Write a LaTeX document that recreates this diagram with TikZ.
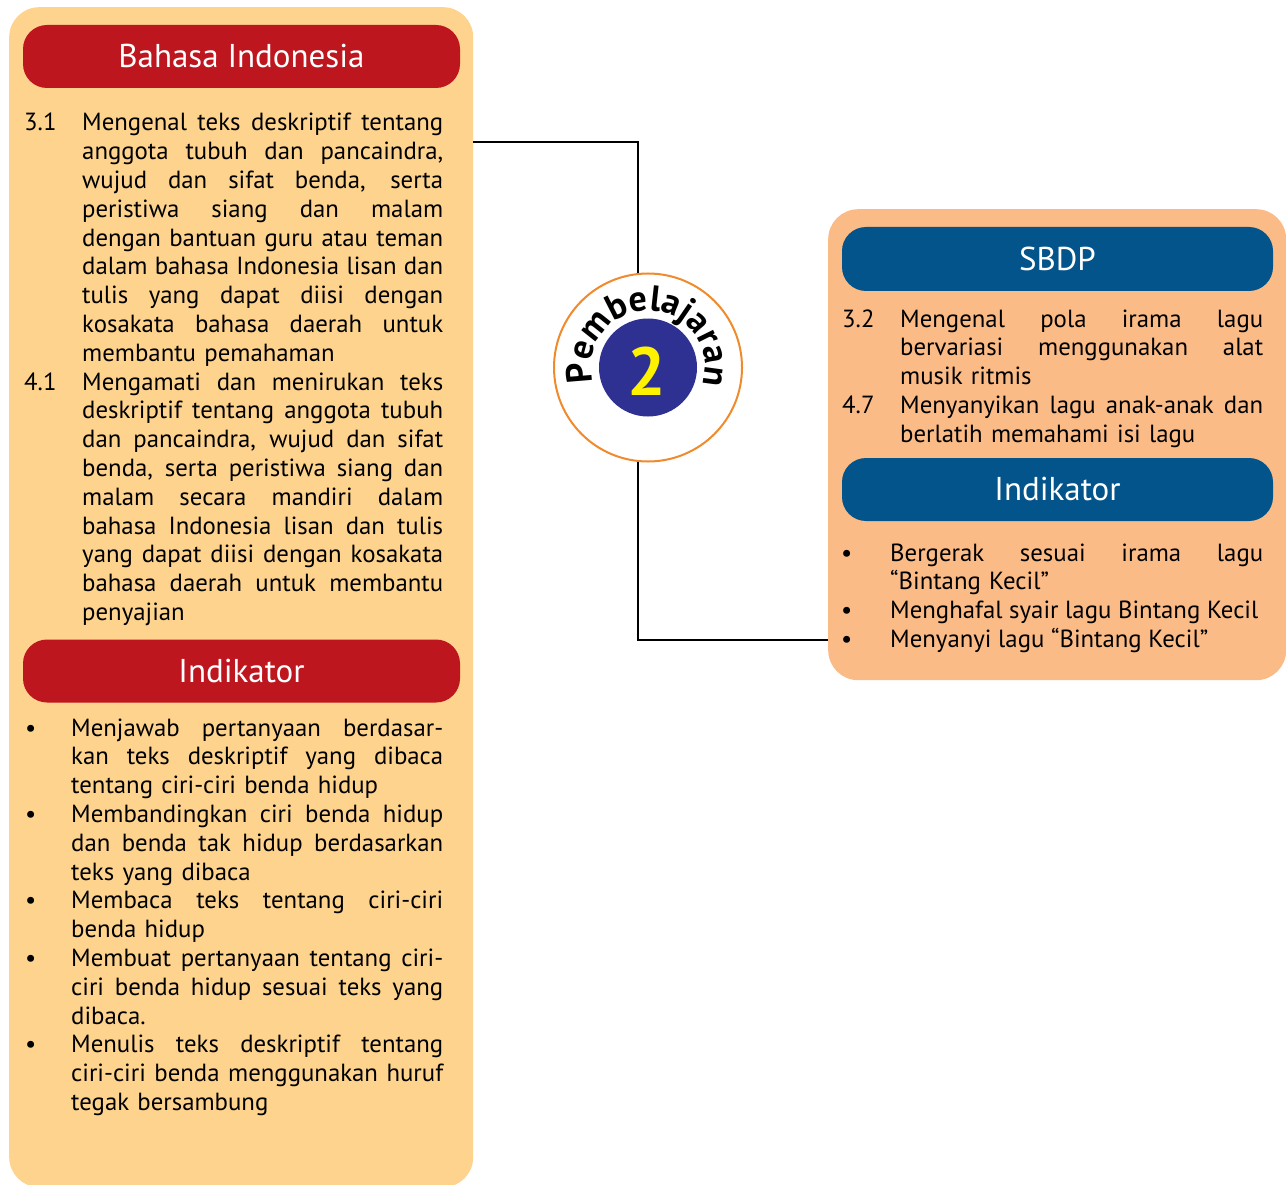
\documentclass[tikz,border=0pt]{standalone}
\usepackage{fontspec}
\setmainfont{PT Sans}
\usetikzlibrary{decorations.text}
\definecolor{lpfill}{HTML}{FDD38D}
\definecolor{rpfill}{HTML}{FABB86}
\definecolor{hred}{HTML}{BE161E}
\definecolor{hblue}{HTML}{02548A}
\definecolor{corange}{HTML}{F08A2C}
\definecolor{cblue}{HTML}{2E3192}
\definecolor{cyellow}{HTML}{FFF200}
\newcommand\jl[1]{\leavevmode\hbox to\hsize{\spaceskip=0.27em plus 1fil minus 0.09em\xspaceskip=\spaceskip #1}\\}
\tikzset{
  panel/.style={fill=#1, rounded corners=30pt, inner sep=0pt, anchor=north west},
  hdr/.style={fill=#1, rounded corners=24pt, minimum height=63pt, minimum width=437pt,
    text=white, font=\fontsize{33}{34}\selectfont, inner sep=0pt},
  body/.style={font=\fontsize{24.8}{28.8}\selectfont, inner sep=0pt, anchor=base west},
  conn/.style={line width=2.5pt, black},
}
\begin{document}
\begin{tikzpicture}[x=1pt, y=-1pt]
\useasboundingbox (0,0) rectangle (1286,1185);
% panels
\node[panel=lpfill, minimum width=464pt, minimum height=1180pt] (lp) at (9,7) {};
\node[panel=rpfill, minimum width=458pt, minimum height=471pt] (rp) at (828,209) {};
% left headers
\node[hdr=hred] (h1) at (241.5,56.5) {Bahasa Indonesia};
\node[hdr=hred] (h2) at (241.5,671) {Indikator};
% right headers
\node[hdr=hblue, minimum width=431pt, minimum height=64pt] (h3) at (1057.5,259) {SBDP};
\node[hdr=hblue, minimum width=431pt] (h4) at (1057.5,489.5) {Indikator};
% left competencies
\node[body] (n31) at (24,131) {3.1};
\node[body, text width=361pt] (t31) at (82,131) {%
\jl{Mengenal teks deskriptif tentang}
\jl{anggota tubuh dan pancaindra,}
\jl{wujud dan sifat benda, serta}
\jl{peristiwa siang dan malam}
\jl{dengan bantuan guru atau teman}
\jl{dalam bahasa Indonesia lisan dan}
\jl{tulis yang dapat diisi dengan}
\jl{kosakata bahasa daerah untuk}
membantu pemahaman};
\node[body] (n41) at (24,390.2) {4.1};
\node[body, text width=361pt] (t41) at (82,390.2) {%
\jl{Mengamati dan menirukan teks}
\jl{deskriptif tentang anggota tubuh}
\jl{dan pancaindra, wujud dan sifat}
\jl{benda, serta peristiwa siang dan}
\jl{malam secara mandiri dalam}
\jl{bahasa Indonesia lisan dan tulis}
\jl{yang dapat diisi dengan kosakata}
\jl{bahasa daerah untuk membantu}
penyajian};
% left indicators
\node[body] (b1) at (25,736) {•};
\node[body, text width=372pt] (i1) at (71,736) {%
\jl{Menjawab pertanyaan berdasar-}
\jl{kan teks deskriptif yang dibaca}
tentang ciri-ciri benda hidup};
\node[body] (b2) at (25,822.4) {•};
\node[body, text width=372pt] (i2) at (71,822.4) {%
\jl{Membandingkan ciri benda hidup}
\jl{dan benda tak hidup berdasarkan}
teks yang dibaca};
\node[body] (b3) at (25,908.8) {•};
\node[body, text width=372pt] (i3) at (71,908.8) {%
\jl{Membaca teks tentang ciri-ciri}
benda hidup};
\node[body] (b4) at (25,966.4) {•};
\node[body, text width=372pt] (i4) at (71,966.4) {%
\jl{Membuat pertanyaan tentang ciri-}
\jl{ciri benda hidup sesuai teks yang}
dibaca.};
\node[body] (b5) at (25,1052.8) {•};
\node[body, text width=372pt] (i5) at (71,1052.8) {%
\jl{Menulis teks deskriptif tentang}
\jl{ciri-ciri benda menggunakan huruf}
tegak bersambung};
% right competencies
\node[body] (n32) at (842,327) {3.2};
\node[body, text width=363pt] (t32) at (900,327) {%
\jl{Mengenal pola irama lagu}
\jl{bervariasi menggunakan alat}
musik ritmis};
\node[body] (n47) at (842,413.4) {4.7};
\node[body, text width=363pt] (t47) at (900,413.4) {%
\jl{Menyanyikan lagu anak-anak dan}
berlatih memahami isi lagu};
% right indicators
\node[body] (rb1) at (841,561) {•};
\node[body, text width=373pt] (ri1) at (890,561) {%
\jl{Bergerak sesuai irama lagu}
“Bintang Kecil”};
\node[body] (rb2) at (841,618.6) {•};
\node[body] (ri2) at (890,618.6) {Menghafal syair lagu Bintang Kecil};
\node[body] (rb3) at (841,647.4) {•};
\node[body] (ri3) at (890,647.4) {Menyanyi lagu “Bintang Kecil”};
% central circle
\node[circle, draw=corange, line width=2pt, fill=white, minimum size=188pt, inner sep=0pt] (circ) at (648,367.5) {};
\node[circle, fill=cblue, minimum size=98pt, inner sep=0pt] (inner) at (648,367.5) {};
\node[text=cyellow, font=\fontsize{68}{68}\bfseries\selectfont, inner sep=0pt] (num) at (647,371) {2};
\begin{scope}[shift={(648,367.5)}, x=1pt, y=1pt]
\path[decorate, decoration={text along path, text align=fit to path,
  text={|\fontsize{36}{36}\bfseries\selectfont|Pembelajaran}}]
  (195:57) arc[start angle=195, end angle=-15, radius=57];
\end{scope}
% connectors
\coordinate (lpout) at (473,142);
\coordinate (rpin) at (828,640);
\draw[conn] (lpout) -| (circ.96);
\draw[conn] (circ.264) |- (rpin);
\end{tikzpicture}
\end{document}
